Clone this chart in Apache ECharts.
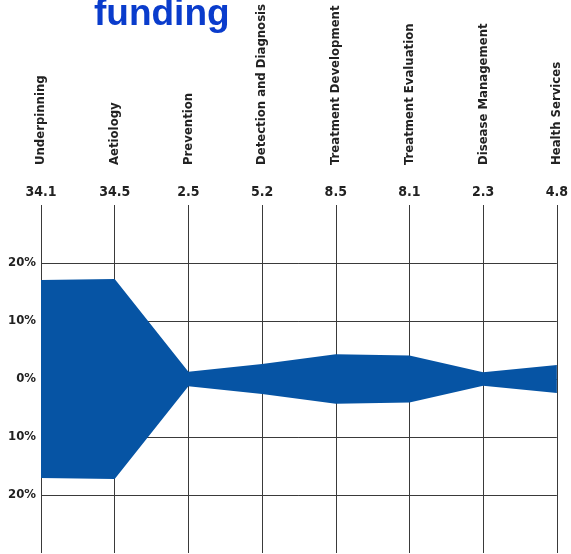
<!DOCTYPE html>
<html>
<head>
<meta charset="utf-8">
<script src="https://cdn.jsdelivr.net/npm/echarts@6/dist/echarts.min.js"></script>
<style>
  html, body { margin: 0; padding: 0; background: #fff; }
  #chart { width: 571px; height: 554px; }
</style>
</head>
<body>
<div id="chart"></div>
<script>
const categories = ['Underpinning', 'Aetiology', 'Prevention', 'Detection and Diagnosis',
  'Treatment Development', 'Treatment Evaluation', 'Disease Management', 'Health Services'];
const funding = [34.1, 34.5, 2.5, 5.2, 8.5, 8.1, 2.3, 4.8];
const valueLabels = ['34.1', '34.5', '2.5', '5.2', '8.5', '8.1', '2.3', '4.8'];

const chart = echarts.init(document.getElementById('chart'));
const gridColor = '#3a3a3a';
const labelFont = 'DejaVu Sans Condensed';

// the band is mirrored around 0: half of each share above, half below
const lower = funding.map(v => -v / 2);

chart.setOption({
  animation: false,
  title: {
    text: 'funding',
    left: 89,
    top: -9,
    textStyle: { color: '#0a3ccc', fontSize: 37, fontWeight: 'bold', fontFamily: 'Liberation Sans' }
  },
  grid: { left: 41, right: 10, top: 205, bottom: 1 },
  xAxis: [{
    type: 'category',
    position: 'top',
    data: categories,
    boundaryGap: false,
    axisLine: { show: false },
    axisTick: { show: false },
    splitLine: { show: true, lineStyle: { color: gridColor, width: 1 } },
    axisLabel: {
      margin: 6,
      interval: 0,
      formatter: (v, i) => valueLabels[i],
      color: '#222',
      fontSize: 14,
      fontWeight: 'bold',
      fontFamily: labelFont
    }
  }, {
    type: 'category',
    position: 'top',
    data: categories,
    boundaryGap: false,
    axisLine: { show: false },
    axisTick: { show: false },
    axisLabel: {
      margin: 40,
      interval: 0,
      rotate: -90,
      color: '#222',
      fontSize: 13,
      fontWeight: 'bold',
      fontFamily: labelFont
    }
  }],
  yAxis: {
    type: 'value',
    min: -30,
    max: 30,
    interval: 10,
    axisLine: { show: false },
    axisTick: { show: false },
    splitLine: {
      show: true,
      lineStyle: {
        color: ['rgba(0,0,0,0)', gridColor, gridColor, gridColor, gridColor, gridColor, 'rgba(0,0,0,0)'],
        width: 1
      }
    },
    axisLabel: {
      margin: 5,
      showMinLabel: false,
      showMaxLabel: false,
      formatter: v => Math.abs(v) + '%',
      color: '#222',
      fontSize: 13,
      fontWeight: 'bold',
      fontFamily: labelFont
    }
  },
  series: [{
    type: 'line',
    data: lower,
    stack: 'band',
    stackStrategy: 'all',
    symbol: 'none',
    lineStyle: { width: 0, opacity: 0 },
    silent: true
  }, {
    type: 'line',
    data: funding,
    stack: 'band',
    stackStrategy: 'all',
    symbol: 'none',
    lineStyle: { width: 0, opacity: 0 },
    areaStyle: { color: '#0654a4', opacity: 1 }
  }]
});
</script>
</body>
</html>
